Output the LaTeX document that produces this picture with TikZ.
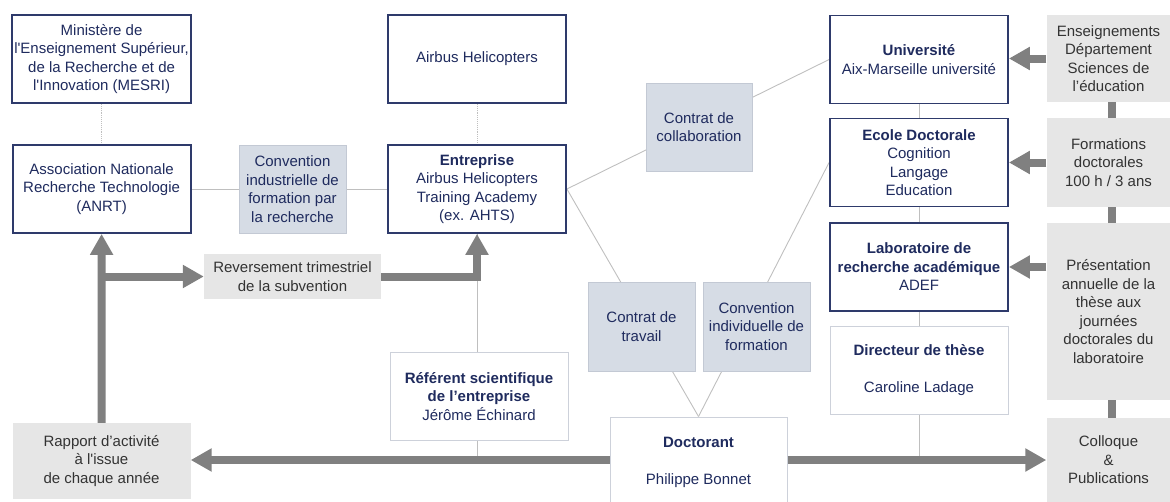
\documentclass[tikz,border=0pt]{standalone}
\usepackage{fontspec}
\setmainfont{Liberation Sans}
\usetikzlibrary{arrows.meta,backgrounds}
\definecolor{boxNavy}{HTML}{2E3A6B}
\definecolor{textNavy}{HTML}{1F2B5E}
\definecolor{dealFill}{HTML}{D6DCE5}
\definecolor{dealLine}{HTML}{C3C9D4}
\definecolor{noteFill}{HTML}{E6E6E6}
\definecolor{noteText}{HTML}{333333}
\definecolor{arrowGray}{HTML}{808080}
\definecolor{thinGray}{HTML}{BFBFBF}
\definecolor{softLine}{HTML}{CDD1DA}
\tikzset{
 baseBox/.style = {align=center, inner sep=2pt, font=\fontsize{15}{18.5}\selectfont,
  minimum width=178pt, minimum height=88pt},
 mainBox/.style = {baseBox, draw=boxNavy, line width=1.8pt, fill=white, text=textNavy},
 softBox/.style = {baseBox, draw=softLine, line width=1pt, fill=white, text=textNavy},
 dealBox/.style = {baseBox, draw=dealLine, line width=1pt, fill=dealFill, text=textNavy,
  minimum width=107pt},
 noteBox/.style = {baseBox, fill=noteFill, text=noteText},
 thinLink/.style = {draw=thinGray, line width=0.9pt},
 fatArrow/.style = {draw=arrowGray, line width=8pt,
  -{Triangle[width=22pt,length=21pt]}},
 railGray/.style = {draw=arrowGray, line width=8pt}
}
\newcommand{\linkBox}[3]{
    \draw[#3] (#1) -- (#2);
}
\begin{document}
\begin{tikzpicture}[x=1pt, y=-1pt]
    \useasboundingbox (0,0) rectangle (1170,501);

    \node[mainBox] (mesri) at (101.6,59) {Ministère de\\l\textquotesingle Enseignement Supérieur,\\de la Recherche et de\\l\textquotesingle Innovation (MESRI)};
    \node[mainBox] (airbus) at (477,59) {Airbus Helicopters};
    \node[mainBox] (anrt) at (101.6,189) {Association Nationale\\Recherche Technologie\\(ANRT)};
    \node[dealBox] (cifre) at (292.5,189) {Convention\\industrielle de\\formation par\\la recherche};
    \node[mainBox] (entreprise) at (477,189) {\textbf{Entreprise}\\Airbus Helicopters\\Training Academy\\(ex. AHTS)};
    \node[dealBox, minimum width=106pt] (collab) at (699,127) {Contrat de\\collaboration};
    \node[mainBox] (univ) at (919,59.5) {\textbf{Université}\\Aix-Marseille université};
    \node[mainBox] (ecole) at (919,162.5) {\textbf{Ecole Doctorale}\\Cognition\\Langage\\Education};
    \node[mainBox] (labo) at (919,267) {\textbf{Laboratoire de}\\\textbf{recherche académique}\\ADEF};
    \node[softBox] (directeur) at (919,370) {\textbf{Directeur de thèse}\\[18.5pt]Caroline Ladage};
    \node[softBox] (referent) at (479,396.5) {\textbf{Référent scientifique}\\\textbf{de l’entreprise}\\Jérôme Échinard};
    \node[dealBox, minimum height=89pt] (travail) at (641.5,326.5) {Contrat de\\travail};
    \node[dealBox, minimum height=89pt] (indiv) at (756.5,326.5) {Convention\\individuelle de\\formation};
    \node[noteBox, minimum width=177pt, minimum height=45pt] (reversement) at (292.5,276.5) {Reversement trimestriel\\de la subvention};
    \node[noteBox, minimum height=76pt] (rapport) at (101.5,461) {Rapport d’activité\\à l\textquotesingle issue\\de chaque année};
    \node[softBox, minimum width=177pt, minimum height=91pt] (doctorant) at (698.5,462.5) {\textbf{Doctorant}\\[18.5pt]Philippe Bonnet};
    \node[noteBox, minimum width=124pt, minimum height=87pt] (enseign) at (1108.5,58.5) {Enseignements\\Département\\Sciences de\\l’éducation};
    \node[noteBox, minimum width=124pt, minimum height=89pt] (formations) at (1108.5,162.5) {Formations\\doctorales\\100 h / 3 ans};
    \node[noteBox, minimum width=124pt, minimum height=177pt] (presentation) at (1108.5,311.5) {Présentation\\annuelle de la\\thèse aux\\journées\\doctorales du\\laboratoire};
    \node[noteBox, minimum width=124pt, minimum height=84pt] (colloque) at (1108.5,460) {Colloque\\\&\\Publications};

    \begin{scope}[on background layer]
        \linkBox{mesri}{anrt}{thinLink, densely dotted}
        \linkBox{airbus}{entreprise}{thinLink, densely dotted}
        \linkBox{anrt}{entreprise}{thinLink}
        \linkBox{entreprise.east}{univ.west}{thinLink}
        \linkBox{entreprise.east}{doctorant.north}{thinLink}
        \linkBox{ecole.west}{doctorant.north}{thinLink}
        \linkBox{univ}{directeur}{thinLink}
        \linkBox{entreprise.south}{entreprise.south |- colloque.west}{thinLink}
        \linkBox{directeur.south}{directeur.south |- colloque.west}{thinLink}
        \linkBox{[xshift=3.5pt]enseign.south}{[xshift=3.5pt]colloque.north}{railGray}
    \end{scope}

    \draw[fatArrow] (rapport.north) -- (anrt.south);
    \draw[fatArrow] (rapport.north |- reversement.west) -- (reversement.west);
    \draw[fatArrow] (reversement.east) -| (entreprise.south);
    \draw[fatArrow] (doctorant.west |- colloque.west) -- (rapport.east |- colloque.west);
    \draw[fatArrow] (doctorant.east |- colloque.west) -- (colloque.west);
    \draw[fatArrow] (enseign.west) -- (enseign.west -| univ.east);
    \draw[fatArrow] (formations.west) -- (ecole.east);
    \draw[fatArrow] (presentation.west |- labo.east) -- (labo.east);
\end{tikzpicture}
\end{document}
